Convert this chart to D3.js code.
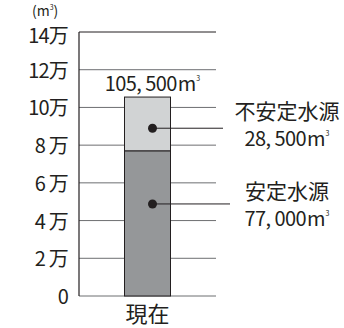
<!DOCTYPE html>
<html lang="ja">
<head>
<meta charset="UTF-8">
<script src="https://d3js.org/d3.v7.min.js"></script>
<style>
  body { margin: 0; background: #fff; }
  text { font-family: "Noto Sans CJK JP", sans-serif; fill: #231f20; }
</style>
</head>
<body>
<svg width="344" height="328"></svg>
<script>
  const categories = ["現在"];
  const stableValues = [77000];
  const unstableValues = [28500];
  const tickValues = [0, 20000, 40000, 60000, 80000, 100000, 120000, 140000];
  const tickLabels = ["0", "2 万", "4 万", "6 万", "8 万", "10万", "12万", "14万"];
  const seriesNames = ["安定水源", "不安定水源"];

  const svg = d3.select("svg");
  const plotL = 79, plotR = 216, plotT = 32, plotB = 296;

  const x = d3.scaleBand().domain(categories).range([plotL, plotR]).paddingInner(0).paddingOuter(0.33);
  const y = d3.scaleLinear().domain([0, 140000]).range([plotB, plotT]);

  // grid lines
  svg.append("g")
    .selectAll("line")
    .data(tickValues)
    .join("line")
    .attr("x1", plotL).attr("x2", plotR)
    .attr("y1", d => y(d)).attr("y2", d => y(d))
    .attr("stroke", d => d === 140000 ? "#231f20" : "#6d6e71")
    .attr("stroke-width", 1);

  // y axis line
  svg.append("line")
    .attr("x1", plotL).attr("x2", plotL)
    .attr("y1", y(140000)).attr("y2", y(0))
    .attr("stroke", "#231f20").attr("stroke-width", 1.2);

  // tick labels
  svg.append("g")
    .selectAll("text")
    .data(tickValues)
    .join("text")
    .attr("x", 68)
    .attr("y", d => y(d) + (d === 140000 ? 11 : 8))
    .attr("text-anchor", "end")
    .style("font-size", "20px")
    .style("letter-spacing", "-0.8px")
    .text((d, i) => tickLabels[i]);

  // unit
  const unit = svg.append("text").attr("x", 32).attr("y", 16).style("font-size", "14px");
  unit.append("tspan").text("(m");
  unit.append("tspan").attr("dy", -6).style("font-size", "7px").text("3");
  unit.append("tspan").attr("dy", 6).text(")");

  const bw = 46;
  const bx = d => x(d) + x.bandwidth() / 2 - bw / 2;

  // stacked bars
  svg.append("g")
    .selectAll("rect")
    .data(categories)
    .join("rect")
    .attr("x", bx)
    .attr("width", bw)
    .attr("y", (d, i) => y(stableValues[i]))
    .attr("height", (d, i) => y(0) - y(stableValues[i]))
    .attr("fill", "#959799")
    .attr("stroke", "#231f20").attr("stroke-width", 1);

  svg.append("g")
    .selectAll("rect")
    .data(categories)
    .join("rect")
    .attr("x", bx)
    .attr("width", bw)
    .attr("y", (d, i) => y(stableValues[i] + unstableValues[i]))
    .attr("height", (d, i) => y(stableValues[i]) - y(stableValues[i] + unstableValues[i]))
    .attr("fill", "#d1d3d4")
    .attr("stroke", "#231f20").attr("stroke-width", 1);

  function withUnit(sel, txt) {
    sel.append("tspan").style("letter-spacing", "-0.6px").text(txt);
    sel.append("tspan").attr("dx", 1).text("m");
    sel.append("tspan").attr("dy", -10).style("font-size", "7px").text("3");
  }

  // total label
  const cx = x(categories[0]) + x.bandwidth() / 2;
  const total = stableValues[0] + unstableValues[0];
  withUnit(svg.append("text")
    .attr("x", cx + 5).attr("y", 91)
    .attr("text-anchor", "middle")
    .style("font-size", "20px"), d3.format(",")(total).replace(",", ", "));

  // callouts
  const callouts = [
    { name: seriesNames[1], value: unstableValues[0], dotY: y(stableValues[0] + unstableValues[0] * 0.42), endX: 223, ty: 119 },
    { name: seriesNames[0], value: stableValues[0], dotY: y(stableValues[0] * 0.634), endX: 230, ty: 199 }
  ];
  callouts.forEach(c => {
    svg.append("line")
      .attr("x1", cx + 5).attr("x2", c.endX)
      .attr("y1", c.dotY).attr("y2", c.dotY)
      .attr("stroke", "#231f20").attr("stroke-width", 1);
    svg.append("circle")
      .attr("cx", cx + 5).attr("cy", c.dotY).attr("r", 4.5)
      .attr("fill", "#231f20");
    svg.append("text")
      .attr("x", 287).attr("y", c.ty)
      .attr("text-anchor", "middle")
      .style("font-size", "21px")
      .text(c.name);
    withUnit(svg.append("text")
      .attr("x", 287).attr("y", c.ty + 27)
      .attr("text-anchor", "middle")
      .style("font-size", "20px"), d3.format(",")(c.value).replace(",", ", "));
  });

  // category label
  svg.append("g")
    .selectAll("text")
    .data(categories)
    .join("text")
    .attr("x", d => x(d) + x.bandwidth() / 2)
    .attr("y", 322)
    .attr("text-anchor", "middle")
    .style("font-size", "22px")
    .text(d => d);
</script>
</body>
</html>
